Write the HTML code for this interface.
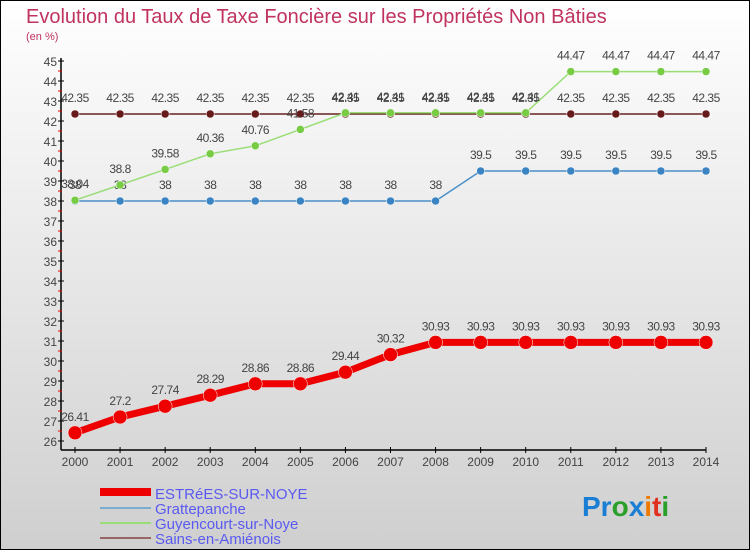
<!DOCTYPE html>
<html><head><meta charset="utf-8"><style>
body{margin:0}
#c{width:750px;height:550px;position:relative;overflow:hidden;font-family:"Liberation Sans",sans-serif}
</style></head><body>
<div id="c">
<svg id="s" width="750" height="550" xmlns="http://www.w3.org/2000/svg">
<defs><linearGradient id="bg" x1="0" y1="0" x2="0" y2="1"><stop offset="0" stop-color="#ffffff"/><stop offset="1" stop-color="#cfcfcf"/></linearGradient></defs>
<rect x="0.5" y="0.5" width="749" height="549" fill="url(#bg)" stroke="#000"/>
<text x="26" y="23" font-size="20" fill="#c0335f">Evolution du Taux de Taxe Foncière sur les Propriétés Non Bâties</text>
<text x="26" y="40" font-size="11" fill="#c0335f">(en %)</text>
<g id="axes"></g><g id="series"></g>
<g>
<line x1="100" y1="492" x2="151" y2="492" stroke="#ee0000" stroke-width="8"/>
<text x="155" y="499" font-size="15" fill="#5a5af0">ESTRéES-SUR-NOYE</text>
<line x1="100" y1="508" x2="151" y2="508" stroke="#7aaed0" stroke-width="2"/>
<text x="155" y="514" font-size="15" fill="#5a5af0">Grattepanche</text>
<line x1="100" y1="523" x2="151" y2="523" stroke="#99dd77" stroke-width="2"/>
<text x="155" y="529" font-size="15" fill="#5a5af0">Guyencourt-sur-Noye</text>
<line x1="100" y1="538" x2="151" y2="538" stroke="#996666" stroke-width="2"/>
<text x="155" y="544" font-size="15" fill="#5a5af0">Sains-en-Amiénois</text>
</g>
<text x="582" y="516" font-size="28" font-weight="bold"><tspan fill="#1a7fd4">Pr</tspan><tspan fill="#2aa02a">o</tspan><tspan fill="#1a7fd4">x</tspan><tspan fill="#f07a00">i</tspan><tspan fill="#e03020">t</tspan><tspan fill="#2aa02a">i</tspan></text>
</svg>
</div>
<script>
const years=[2000,2001,2002,2003,2004,2005,2006,2007,2008,2009,2010,2011,2012,2013,2014];
const estrees=[26.41,27.2,27.74,28.29,28.86,28.86,29.44,30.32,30.93,30.93,30.93,30.93,30.93,30.93,30.93];
const gratte=[38,38,38,38,38,38,38,38,38,39.5,39.5,39.5,39.5,39.5,39.5];
const guyen=[38.04,38.8,39.58,40.36,40.76,41.58,42.41,42.41,42.41,42.41,42.41,44.47,44.47,44.47,44.47];
const sains=[42.35,42.35,42.35,42.35,42.35,42.35,42.35,42.35,42.35,42.35,42.35,42.35,42.35,42.35,42.35];
const yTicks=[26,27,28,29,30,31,32,33,34,35,36,37,38,39,40,41,42,43,44,45];
const NS="http://www.w3.org/2000/svg";
const xs=i=>75+i*(706-75)/(years.length-1);
const ys=v=>441-(v-26)*20;
function mk(t,a,p){const e=document.createElementNS(NS,t);for(const k in a)e.setAttribute(k,a[k]);p.appendChild(e);return e;}
const ax=document.getElementById('axes'),sr=document.getElementById('series');
let yl=mk('line',{x1:61,y1:58,x2:61,y2:450,stroke:'#000','stroke-width':1.5},ax);


let xl=mk('line',{x1:61,y1:450,x2:706,y2:450,stroke:'#000','stroke-width':1.5},ax);


yTicks.forEach(v=>{
 mk('line',{x1:58,y1:ys(v),x2:64,y2:ys(v),stroke:'#000'},ax);
 if(v<45)mk('line',{x1:58,y1:ys(v+0.5),x2:62,y2:ys(v+0.5),stroke:'#e00'},ax);
 const t=mk('text',{x:57,y:ys(v)+5,'font-size':12,'text-anchor':'end',fill:'#444'},ax);t.textContent=v;
 
 
});
years.forEach((y,i)=>{
 mk('line',{x1:xs(i),y1:447,x2:xs(i),y2:453,stroke:'#000'},ax);
 const t=mk('text',{x:xs(i),y:466,'font-size':12,'text-anchor':'middle',fill:'#444'},ax);t.textContent=y;
 
 
});
function series(data,color,mcolor,w,r,name){
 const g=mk('g',{},sr);
 
 
 mk('polyline',{points:data.map((v,i)=>xs(i)+','+ys(v)).join(' '),fill:'none',stroke:color,'stroke-width':w},g);
 data.forEach((v,i)=>{
  const c=mk('circle',{cx:xs(i),cy:ys(v),r:r,fill:mcolor,stroke:'#fff','stroke-width':0.5},g);
  
  
  const t=mk('text',{x:xs(i),y:ys(v)-12,'font-size':12,'text-anchor':'middle',fill:'#444','letter-spacing':'-0.5'},g);
  t.textContent=v;
  
  
 });
}
series(sains,'#662222','#661a1a',1.5,4,'sains');
series(gratte,'#4a90c8','#3a84c4',1.5,4,'grattepanche');
series(guyen,'#99dd77','#77cc44',1.5,4,'guyencourt');
series(estrees,'#ee0000','#ee0000',7,7,'estrees');
</script>
</body></html>
